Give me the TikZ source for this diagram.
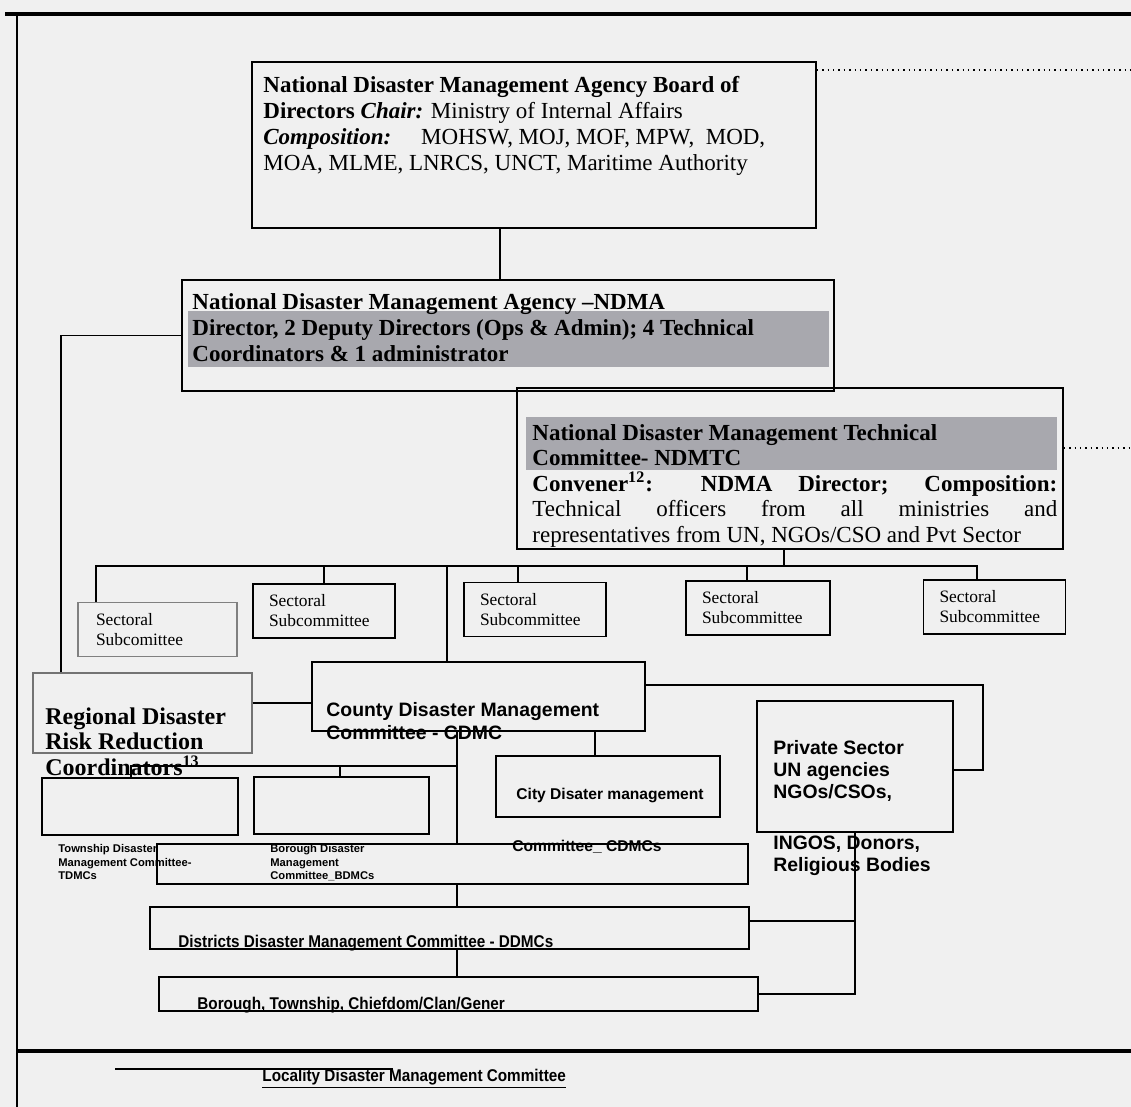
\documentclass[tikz,border=0pt]{standalone}
\usepackage{fontspec}
\setmainfont{Liberation Serif}
\setsansfont{Liberation Sans}
\newfontfamily\narrowsans[FakeStretch=0.9]{Liberation Sans}
\definecolor{bandgray}{RGB}{168,168,174}
\definecolor{paper}{RGB}{240,240,240}
\newcommand{\ndmSerif}{\fontsize{11.5}{13}\selectfont}
\newcommand{\ndmTech}{\fontsize{11.5}{12.75}\selectfont}
\newcommand{\ndmRegion}{\fontsize{12}{12.75}\selectfont\bfseries}
\newcommand{\ndmSect}{\fontsize{8.7}{10}\selectfont}
\newcommand{\ndmSans}{\sffamily\bfseries\fontsize{9.7}{11.5}\selectfont}
\newcommand{\ndmSansList}{\sffamily\bfseries\fontsize{9.7}{11}\selectfont}
\newcommand{\ndmSmall}{\sffamily\bfseries\fontsize{7.8}{9}\selectfont}
\newcommand{\ndmTiny}{\sffamily\bfseries\fontsize{5.6}{6.75}\selectfont}
\newcommand{\ndmNarrow}{\narrowsans\bfseries\fontsize{8.5}{10}\selectfont}

\begin{document}
\begin{tikzpicture}[x=0.5pt,y=-0.5pt,
    box/.style={draw,line width=0.7pt,inner sep=0pt},
    band/.style={fill=bandgray,inner sep=0pt},
    sector/.style={draw,line width=0.7pt,align=left,inner xsep=8pt,inner ysep=0pt,
                   text width=55pt,minimum height=27pt,font=\ndmSect},
    txt/.style={inner sep=0pt,align=left},
    link/.style={line width=0.7pt},
    frame/.style={line width=2pt}]
    \useasboundingbox (0,0) rectangle (1131,1107);
    \fill[paper] (0,0) rectangle (1131,1107);

    %%%%%%%%%% Frame %%%%%%%%%%
    \draw[frame] (5,14) -- (1131,14);
    \draw[line width=1pt] (17,14) -- (17,1107);
    \draw[frame] (17,1051) -- (1131,1051);
    \draw[link] (115,1069) -- (393,1069);

    %%%%%%%%%% Boxes %%%%%%%%%%
    \node (board) at (534,145) [box,minimum width=282pt,minimum height=83pt] {};
    \node (ndma) at (508,335.5) [box,minimum width=326pt,minimum height=55.5pt] {};
    \node (ndmaband) at (508.5,339) [band,minimum width=320.5pt,minimum height=28pt] {};
    \node (ndmtc) at (790,468.5) [box,minimum width=273pt,minimum height=80.5pt] {};
    \node (ndmtcband) at (791.5,443.5) [band,minimum width=265.5pt,minimum height=26.5pt] {};

    \node (sec1) at (157.5,629.5) [sector,draw=black!50,text width=61.5pt,inner xsep=9pt] {Sectoral\\Subcomittee};
    \node (sec2) at (324,611) [sector] {Sectoral\\Subcommittee};
    \node (sec3) at (535,609.5) [sector] {Sectoral\\Subcommittee};
    \node (sec4) at (758,608) [sector,text width=56pt] {Sectoral\\Subcommittee};
    \node (sec5) at (994.5,607) [sector] {Sectoral\\Subcommittee};

    \node (regional) at (142.5,713) [box,draw=black!55,minimum width=109.5pt,minimum height=40pt] {};
    \node (cdmc) at (478.5,696.5) [box,minimum width=166.5pt,minimum height=34.5pt] {};
    \node (city) at (608,786.5) [box,minimum width=112pt,minimum height=30.5pt] {};
    \node (private) at (855,766.5) [box,minimum width=98pt,minimum height=65.5pt] {};
    \node (township) at (140,806.5) [box,minimum width=98pt,minimum height=28.5pt] {};
    \node (borough) at (341.5,805.5) [box,minimum width=87.5pt,minimum height=28.5pt] {};
    \node (cmte) at (452.5,864) [box,minimum width=295.5pt,minimum height=20pt] {};
    \node (district) at (449.5,928) [box,minimum width=299.5pt,minimum height=21pt] {};
    \node (local) at (458.5,994) [box,minimum width=299.5pt,minimum height=17pt] {};

    %%%%%%%%%% Texts %%%%%%%%%%
    \node (boardtxt) at (263,76) [txt,anchor=north west,font=\ndmSerif]
        {\textbf{National Disaster Management Agency Board of}\\
         \textbf{Directors \textit{Chair:}} Ministry of Internal Affairs\\
         \textbf{\textit{Composition:}}\hspace{15pt}MOHSW, MOJ, MOF, MPW, \ MOD,\\
         MOA, MLME, LNRCS, UNCT, Maritime Authority};
    \node (ndmatxt) at (192,293) [txt,anchor=north west,font=\ndmSerif\bfseries]
        {National Disaster Management Agency --NDMA\\
         Director, 2 Deputy Directors (Ops \& Admin); 4 Technical\\
         Coordinators \& 1 administrator};
    \node (ndmtctxt) at (532,424) [txt,anchor=north west,font=\ndmTech]
        {\textbf{National Disaster Management Technical}\\
         \textbf{Committee- NDMTC}\\
         \makebox[262.5pt][s]{\bfseries Convener\textsuperscript{12}: NDMA Director; Composition:}\\
         \makebox[262.5pt][s]{Technical officers from all ministries and}\\
         representatives from UN, NGOs/CSO and Pvt Sector};
    \node (regionaltxt) at (45,707) [txt,anchor=north west,font=\ndmRegion]
        {Regional Disaster\\Risk Reduction\\Coordinators\textsuperscript{13}};
    \node (cdmctxt) at (326,702) [txt,anchor=north west,font=\ndmSans]
        {County Disaster Management\\Committee - CDMC};
    \node (privatetxt) at (773,740) [txt,anchor=north west,font=\ndmSansList]
        {Private Sector\\UN agencies\\NGOs/CSOs,\\[14.5pt]INGOS, Donors,\\Religious Bodies};
    \node (citytxt) at (516,795) [txt,anchor=west,font=\ndmSmall] {City Disater management};
    \node (cmtetxt) at (512,847) [txt,anchor=west,font=\ndmSmall] {Committee\_ CDMCs};
    \node (townshiptxt) at (58,844) [txt,anchor=north west,font=\ndmTiny]
        {Township Disaster\\Management Committee-\\TDMCs};
    \node (boroughtxt) at (270,844) [txt,anchor=north west,font=\ndmTiny]
        {Borough Disaster\\Management\\Committee\_BDMCs};
    \node (districttxt) at (178,947) [txt,anchor=base west,font=\ndmNarrow]
        {Districts Disaster Management Committee - DDMCs};
    \node (localtxt) at (197,1009) [txt,anchor=base west,font=\ndmNarrow]
        {Borough, Township, Chiefdom/Clan/Gener};
    \node (localitytxt) at (262,1081) [txt,anchor=base west,font=\ndmNarrow]
        {\underline{Locality Disaster Management Committee}};

    %%%%%%%%%% Lines %%%%%%%%%%
    \coordinate (rimA) at (1131,70);
    \coordinate (rimB) at (1131,448);
    \draw[link,dotted] (board.east |- rimA) -- (rimA);
    \draw[link,dotted] (ndmtc.east |- rimB) -- (rimB);

    \coordinate (colA) at (500,0);
    \coordinate (lft) at (61,0);
    \coordinate (bus) at (0,566);
    \draw[link] (board.south -| colA) -- (ndma.north -| colA);
    \draw[link] (ndma.west) -| (regional.north -| lft);
    \draw[link] (ndmtc.south -| 784,0) -- (bus -| 784,0);
    \draw[link] (sec1.north -| 96,0) |- (bus -| 977,0) -- (sec5.north -| 977,0);
    \draw[link] (sec2.north) -- (bus -| sec2.north);
    \draw[link] (sec3.north -| 518,0) -- (bus -| 518,0);
    \draw[link] (sec4.north -| 747,0) -- (bus -| 747,0);
    \draw[link] (cdmc.north -| 447,0) -- (bus -| 447,0);

    \coordinate (jR) at (0,703);
    \coordinate (hook) at (983,770);
    \coordinate (spine) at (457,766);
    \coordinate (jD) at (855,921);
    \draw[link] (regional.east |- jR) -- (cdmc.west |- jR);
    \draw[link] (cdmc.east |- 0,685) -| (hook) -- (private.east |- hook);
    \draw[link] (cdmc.south -| 595,0) -- (city.north -| 595,0);
    \draw[link] (cdmc.south -| spine) -- (cmte.north -| spine);
    \draw[link] (spine) -| (township.north -| 131,0);
    \draw[link] (borough.north -| 340,0) -- (spine -| 340,0);
    \draw[link] (cmte.south -| spine) -- (district.north -| spine);
    \draw[link] (district.south -| spine) -- (local.north -| spine);
    \draw[link] (private.south) |- (local.east);
    \draw[link] (district.east |- jD) -- (jD);
\end{tikzpicture}
\end{document}
